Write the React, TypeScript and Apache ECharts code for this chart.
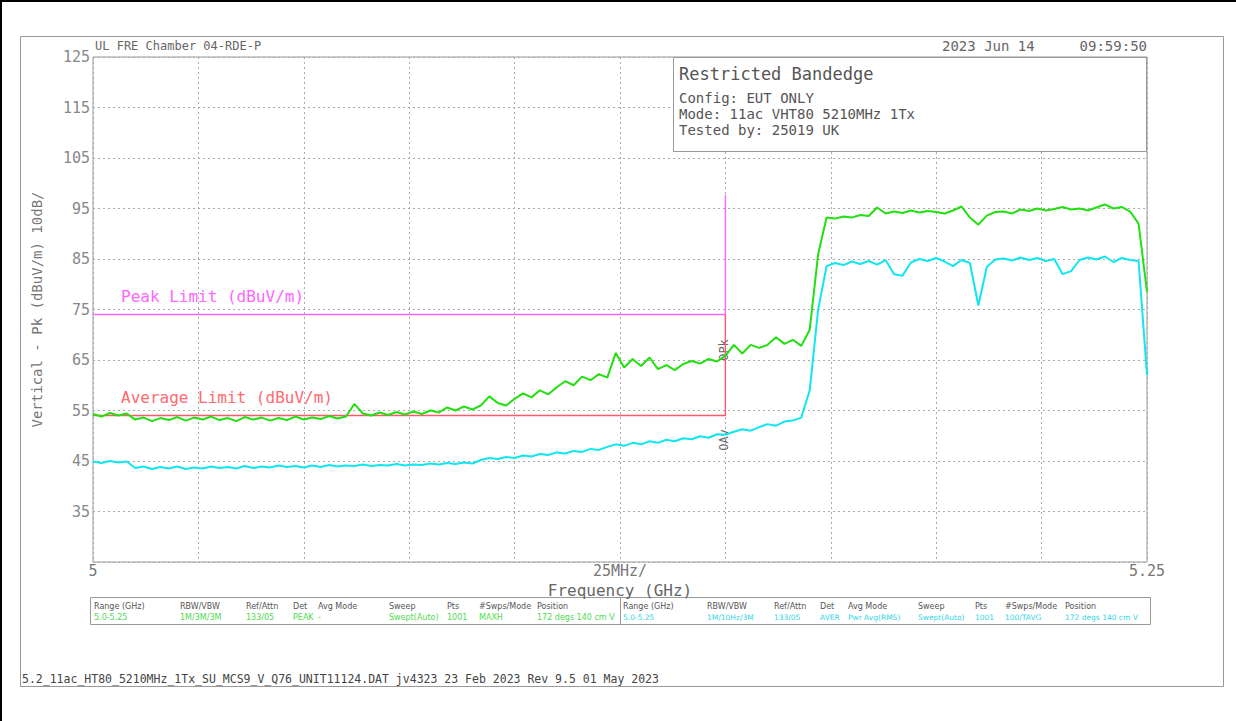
import React, { useEffect, useRef } from "react";
import * as echarts from "echarts";

// Sweep: 5.000 .. 5.250 GHz, one point every 2 MHz
const sweepStartGHz = 5.0;
const sweepStepGHz = 0.002;

// Peak trace (green), dBuV/m
const peakTrace = [
  54.3, 53.8, 54.5, 54.0, 54.4, 53.2, 53.6, 52.9, 53.5, 53.1,
  53.7, 53.0, 53.6, 53.2, 53.8, 53.1, 53.5, 52.9, 53.7, 53.2,
  53.6, 53.0, 53.5, 53.1, 53.8, 53.2, 53.6, 53.3, 53.9, 53.4,
  53.8, 56.3, 54.4, 54.0, 54.6, 54.1, 54.7, 54.2, 54.8, 54.3,
  55.0, 54.6, 55.6, 55.0, 55.8, 55.2, 56.0, 57.8, 56.5, 56.0,
  57.3, 58.4, 57.6, 59.0, 58.2, 59.6, 60.8, 60.0, 61.7, 61.0,
  62.2, 61.5, 66.4, 63.5, 65.2, 63.8, 65.5, 63.2, 64.0, 63.0,
  64.2, 64.8, 64.3, 65.2, 64.7, 65.8, 68.0, 66.3, 68.0, 67.4,
  68.0, 69.5, 68.2, 69.0, 67.8, 71.0, 86.0, 93.2, 93.0, 93.4,
  93.2, 93.7, 93.5, 95.2, 94.0, 94.4, 94.1, 94.6, 94.2, 94.5,
  94.3, 94.0, 94.6, 95.4, 93.2, 91.8, 93.6, 94.3, 94.4, 94.0,
  94.8, 94.5, 95.0, 94.6, 94.9, 95.3, 94.8, 95.0, 94.6, 95.2,
  95.8, 95.0, 95.3, 94.4, 92.0, 78.5,
];

// Average trace (cyan), dBuV/m
const avgTrace = [
  44.9, 44.6, 45.0, 44.7, 44.9, 43.6, 43.9, 43.4, 43.8, 43.5,
  43.9, 43.4, 43.7, 43.5, 43.9, 43.6, 43.8, 43.5, 44.0, 43.6,
  43.9, 43.7, 44.1, 43.8, 44.0, 43.7, 44.1, 43.8, 44.2, 43.9,
  44.1, 44.0, 44.3, 44.0, 44.2, 44.1, 44.4, 44.1, 44.3, 44.2,
  44.5, 44.3, 44.6, 44.4, 44.7, 44.5, 45.2, 45.6, 45.4, 45.8,
  45.6, 46.1, 45.9, 46.4, 46.2, 46.7, 46.5, 47.0, 46.8, 47.4,
  47.2, 47.8, 48.3, 48.0, 48.6, 48.3, 48.9, 48.6, 49.2, 48.9,
  49.5, 49.3, 49.9, 49.6, 50.3, 50.2, 50.8, 51.3, 51.0, 51.7,
  52.3, 52.0, 52.8, 53.0, 53.6, 59.0, 75.0, 83.6, 84.2, 83.8,
  84.5, 84.0, 84.6, 83.9, 84.8, 82.0, 81.7, 84.3, 85.0, 84.6,
  85.2, 84.5, 83.6, 84.8, 84.2, 75.8, 83.4, 84.9, 85.1, 84.7,
  85.3, 84.8, 85.2, 84.6, 85.0, 82.0, 82.6, 84.8, 85.3, 84.9,
  85.5, 84.4, 85.2, 84.8, 84.6, 62.0,
];

// Limits
const peakLimitFreqs = [5.0, 5.15, 5.15];
const peakLimitValues = [74, 74, 97.7];
const avgLimitFreqs = [5.0, 5.15, 5.15];
const avgLimitValues = [54, 54, 74];

// Axis labels
const xLabelValues = [5.0, 5.125, 5.25];
const xLabelTexts = ["5", "25MHz/", "5.25"];
const yMin = 25;
const yMax = 125;

// Settings table
const tableHeaders = ["Range (GHz)", "RBW/VBW", "Ref/Attn", "Det", "Avg Mode", "Sweep", "Pts", "#Swps/Mode", "Position"];
const peakSettings = ["5.0-5.25", "1M/3M/3M", "133/05", "PEAK", "-", "Swept(Auto)", "1001", "MAXH", "172 degs 140 cm V"];
const avgSettings = ["5.0-5.25", "1M/10Hz/3M", "133/05", "AVER", "Pwr Avg(RMS)", "Swept(Auto)", "1001", "100/TAVG", "172 degs 140 cm V"];

const MONO = "'DejaVu Sans Mono', 'Liberation Mono', monospace";
const SANS = "'DejaVu Sans', sans-serif";

export default function App() {
  const ref = useRef<HTMLDivElement>(null);

  useEffect(() => {
    document.body.style.margin = "0";
    if (!ref.current) return;
    const chart = echarts.init(ref.current, null, { renderer: "svg" });

    const peakData = peakTrace.map((v, i) => [+(sweepStartGHz + i * sweepStepGHz).toFixed(3), v]);
    const avgData = avgTrace.map((v, i) => [+(sweepStartGHz + i * sweepStepGHz).toFixed(3), v]);
    const peakLimit = peakLimitFreqs.map((f, i) => [f, peakLimitValues[i]]);
    const avgLimit = avgLimitFreqs.map((f, i) => [f, avgLimitValues[i]]);

    const leftCols = [94, 180, 246, 293, 318, 389, 447, 479, 537];
    const rightCols = [623, 707, 774, 820, 848, 918, 975, 1005, 1065];

    const tableTexts: any[] = [];
    tableHeaders.forEach((h, i) => {
      tableTexts.push({ type: "text", x: leftCols[i], y: 606, style: { text: h, fill: "#555", font: `8px ${SANS}`, verticalAlign: "middle" } });
      tableTexts.push({ type: "text", x: rightCols[i], y: 606, style: { text: h, fill: "#555", font: `8px ${SANS}`, verticalAlign: "middle" } });
      tableTexts.push({ type: "text", x: leftCols[i], y: 617, style: { text: peakSettings[i], fill: "#4ddc4d", font: `8px ${SANS}`, verticalAlign: "middle" } });
      tableTexts.push({ type: "text", x: rightCols[i], y: 617, style: { text: avgSettings[i], fill: "#33d6e6", font: `7.5px ${SANS}`, verticalAlign: "middle" } });
    });

    const option: any = {
      animation: false,
      backgroundColor: "#ffffff",
      grid: {
        left: 93,
        right: 89,
        top: 57,
        bottom: 159,
        show: true,
        borderColor: "#999",
        borderWidth: 1,
        backgroundColor: "transparent",
      },
      xAxis: {
        type: "value",
        min: 5.0,
        max: 5.25,
        interval: 0.025,
        name: "Frequency (GHz)",
        nameLocation: "middle",
        nameGap: 14,
        nameTextStyle: { color: "#666", fontFamily: MONO, fontSize: 16, verticalAlign: "top" },
        axisLine: { show: false },
        axisTick: { show: false },
        axisLabel: {
          color: "#777",
          fontFamily: MONO,
          fontSize: 15,
          margin: 1,
          formatter: (v: number) => {
            for (let i = 0; i < xLabelValues.length; i++) {
              if (Math.abs(v - xLabelValues[i]) < 1e-6) return xLabelTexts[i];
            }
            return "";
          },
        },
        splitLine: { show: true, lineStyle: { color: "#aaa", type: [2, 3], width: 1 } },
      },
      yAxis: {
        type: "value",
        min: yMin,
        max: yMax,
        interval: 10,
        name: "Vertical - Pk (dBuV/m) 10dB/",
        nameLocation: "middle",
        nameGap: 49,
        nameTextStyle: { color: "#777", fontFamily: MONO, fontSize: 14 },
        axisLine: { show: false },
        axisTick: { show: false },
        axisLabel: {
          color: "#888",
          fontFamily: MONO,
          fontSize: 15,
          margin: 3,
          formatter: (v: number) => (Math.abs(v - yMin) < 1e-6 ? "" : String(Math.round(v))),
        },
        splitLine: { show: true, lineStyle: { color: "#aaa", type: [2, 3], width: 1 } },
      },
      series: [
        {
          name: "Peak Limit",
          type: "line",
          data: peakLimit,
          symbol: "none",
          lineStyle: { color: "#ff66ff", width: 1.4 },
          z: 2,
        },
        {
          name: "Average Limit",
          type: "line",
          data: avgLimit,
          symbol: "none",
          lineStyle: { color: "#ff5a6a", width: 1.4 },
          z: 2,
        },
        {
          name: "Peak",
          type: "line",
          data: peakData,
          symbol: "none",
          lineStyle: { color: "#22e010", width: 2 },
          z: 3,
        },
        {
          name: "Average",
          type: "line",
          data: avgData,
          symbol: "none",
          lineStyle: { color: "#10e6f0", width: 2 },
          z: 3,
        },
      ],
      graphic: [
        // outer black frame (left/top)
        { type: "line", shape: { x1: 1, y1: 0, x2: 1, y2: 721 }, style: { stroke: "#000", lineWidth: 2 } },
        { type: "line", shape: { x1: 0, y1: 1, x2: 1236, y2: 1 }, style: { stroke: "#000", lineWidth: 2 } },
        // gray page frame
        { type: "rect", shape: { x: 20.5, y: 36.5, width: 1203, height: 650 }, style: { fill: "none", stroke: "#999", lineWidth: 1 } },
        // header texts
        { type: "text", x: 95, y: 46, style: { text: "UL FRE Chamber 04-RDE-P", fill: "#666", font: `12px ${MONO}`, verticalAlign: "middle" } },
        { type: "text", x: 942, y: 46, style: { text: "2023 Jun 14", fill: "#666", font: `14px ${MONO}`, verticalAlign: "middle" } },
        { type: "text", x: 1147, y: 46, style: { text: "09:59:50", fill: "#666", font: `14px ${MONO}`, align: "right", verticalAlign: "middle" } },
        // info box
        { type: "rect", z: 10, shape: { x: 673.5, y: 57.5, width: 473, height: 94 }, style: { fill: "#fff", stroke: "#999", lineWidth: 1 } },
        { type: "text", z: 11, x: 679, y: 74, style: { text: "Restricted Bandedge", fill: "#555", font: `17px ${MONO}`, verticalAlign: "middle" } },
        { type: "text", z: 11, x: 679, y: 98, style: { text: "Config: EUT ONLY", fill: "#555", font: `14px ${MONO}`, verticalAlign: "middle" } },
        { type: "text", z: 11, x: 679, y: 114, style: { text: "Mode: 11ac VHT80 5210MHz 1Tx", fill: "#555", font: `14px ${MONO}`, verticalAlign: "middle" } },
        { type: "text", z: 11, x: 679, y: 130, style: { text: "Tested by: 25019 UK", fill: "#555", font: `14px ${MONO}`, verticalAlign: "middle" } },
        // limit labels
        { type: "text", x: 121, y: 296, style: { text: "Peak Limit (dBuV/m)", fill: "#ff66ff", font: `16px ${MONO}`, verticalAlign: "middle" } },
        { type: "text", x: 121, y: 397, style: { text: "Average Limit (dBuV/m)", fill: "#ff6a70", font: `16px ${MONO}`, verticalAlign: "middle" } },
        // marker labels
        { type: "text", x: 724, y: 350, rotation: Math.PI / 2, style: { text: "OPk", fill: "#666", font: `12px ${MONO}`, align: "center", verticalAlign: "middle" } },
        { type: "text", x: 724, y: 440, rotation: Math.PI / 2, style: { text: "OAv", fill: "#666", font: `12px ${MONO}`, align: "center", verticalAlign: "middle" } },
        // settings table
        { type: "rect", shape: { x: 90.5, y: 597.5, width: 530, height: 27 }, style: { fill: "none", stroke: "#999", lineWidth: 1 } },
        { type: "rect", shape: { x: 620.5, y: 597.5, width: 530, height: 27 }, style: { fill: "none", stroke: "#999", lineWidth: 1 } },
        ...tableTexts,
        // footer
        { type: "text", x: 22, y: 679, style: { text: "5.2_11ac_HT80_5210MHz_1Tx_SU_MCS9_V_Q76_UNIT11124.DAT jv4323 23 Feb 2023 Rev 9.5 01 May 2023", fill: "#444", font: `11.5px ${MONO}`, verticalAlign: "middle" } },
      ],
    };

    chart.setOption(option);
    return () => chart.dispose();
  }, []);

  return <div ref={ref} style={{ width: 1236, height: 721 }} />;
}
